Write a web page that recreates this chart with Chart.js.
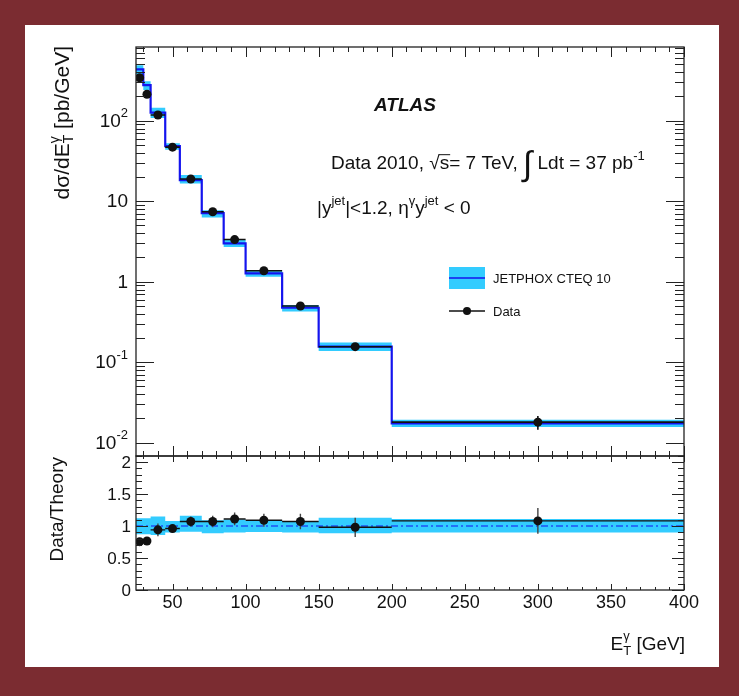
<!DOCTYPE html>
<html>
<head>
<meta charset="utf-8">
<script src="https://cdn.jsdelivr.net/npm/chart.js@4.4.1/dist/chart.umd.min.js"></script>
<style>
  html, body { margin: 0; padding: 0; background: #7b2c31; }
  #wrap { position: relative; width: 739px; height: 696px; overflow: hidden; }
  #paper { position: absolute; left: 25px; top: 25px; width: 694px; height: 642px; background: #fff; }
  canvas { position: absolute; left: 0; top: 0; }
</style>
</head>
<body>
<div id="wrap">
  <div id="paper"></div>
  <canvas id="xsChart" width="739" height="696"></canvas>
  <canvas id="ratioChart" width="739" height="696"></canvas>
</div>
<script>
(() => {
  'use strict'

  // Bins in photon E_T [GeV]
  const binEdges = [25, 30, 35, 45, 55, 70, 85, 100, 125, 150, 200, 400];
  const binCentres = [27.5, 32.5, 40, 50, 62.5, 77.5, 92.5, 112.5, 137.5, 175, 300];

  // JETPHOX prediction [pb/GeV] and its relative band
  const theoryXs = [435, 277, 126, 48.5, 18.3, 7.1, 3.0, 1.27, 0.475, 0.156, 0.0174];
  const theoryHi = [1.12, 1.12, 1.15, 1.08, 1.16, 1.09, 1.10, 1.08, 1.08, 1.13, 1.11];
  const theoryLo = [0.87, 0.87, 0.86, 0.90, 0.91, 0.885, 0.90, 0.905, 0.90, 0.885, 0.90];

  // Measured cross section [pb/GeV]
  const dataXs = [342, 213, 118, 47, 18.9, 7.4, 3.34, 1.37, 0.50, 0.156, 0.018];
  const dataXsErr = [8, 5, 4, 1.2, 0.6, 0.3, 0.17, 0.08, 0.035, 0.016, 0.0035];

  // Data / Theory
  const dataRatio = [0.755, 0.766, 0.94, 0.96, 1.07, 1.07, 1.11, 1.09, 1.07, 0.98, 1.08];
  const ratioErr = [0.05, 0.05, 0.1, 0.05, 0.08, 0.09, 0.1, 0.1, 0.12, 0.15, 0.2];

  // Axis ticks
  const xMajorTicks = [50, 100, 150, 200, 250, 300, 350, 400];
  const xMinorTicks = [30, 40, 60, 70, 80, 90, 110, 120, 130, 140, 160, 170, 180, 190, 210, 220, 230, 240,
    260, 270, 280, 290, 310, 320, 330, 340, 360, 370, 380, 390];
  const xsTicks = [0.01, 0.1, 1, 10, 100];
  const xsTickLabels = [['10', '-2'], ['10', '-1'], ['1', ''], ['10', ''], ['10', '2']];
  const ratioTicks = [0, 0.5, 1, 1.5, 2];
  const ratioTickLabels = ['0', '0.5', '1', '1.5', '2'];

  const CYAN = '#33ccff';
  const BLUE = '#1414ee';
  const INK = '#111';
  const FAMILY = '"Liberation Sans", Arial, sans-serif';

  // helpers building the point lists
  const steps = (vals) => binEdges.map((x, i) => ({ x, y: vals[Math.min(i, vals.length - 1)] }));
  const hSegs = (vals) => vals.flatMap((y, i) => [
    { x: binEdges[i], y }, { x: binEdges[i + 1], y }, { x: binEdges[i + 1], y: null }]);
  const vSegs = (vals, errs) => vals.flatMap((y, i) => [
    { x: binCentres[i], y: y - errs[i] }, { x: binCentres[i], y: y + errs[i] }, { x: binCentres[i], y: null }]);
  const points = (vals) => vals.map((y, i) => ({ x: binCentres[i], y }));

  const fontOf = (p) => `${p.italic ? 'italic ' : ''}${p.bold ? 'bold ' : ''}${p.size || 19}px ${p.family || FAMILY}`;

  // draws a row of text pieces (for super/subscripts)
  function drawRich(ctx, parts, x, y, align) {
    const widths = parts.map(p => { ctx.font = fontOf(p); return p.skip ? 0 : ctx.measureText(p.t).width; });
    const total = widths.reduce((a, b) => a + b, 0);
    let cx = align === 'right' ? x - total : align === 'center' ? x - total / 2 : x;
    parts.forEach((p, i) => {
      ctx.font = fontOf(p);
      ctx.fillText(p.t, cx, y + (p.dy || 0));
      if (p.over) {
        const w = ctx.measureText(p.t).width;
        ctx.fillRect(cx - 1, y - (p.size || 19) * 0.78, w + 2, 1);
      }
      cx += widths[i];
    });
  }

  function drawTicks(ctx, chart, t) {
    const a = chart.chartArea;
    const xs = chart.scales.x, ys = chart.scales.y;
    ctx.save();
    ctx.strokeStyle = '#222';
    ctx.lineWidth = 1;
    ctx.beginPath();
    t.xTicks.forEach(([v, len]) => {
      const px = Math.round(xs.getPixelForValue(v)) + 0.5;
      ctx.moveTo(px, a.top); ctx.lineTo(px, a.top + len);
      ctx.moveTo(px, a.bottom); ctx.lineTo(px, a.bottom - len);
    });
    t.yTicks.forEach(([v, len]) => {
      const py = Math.round(ys.getPixelForValue(v)) + 0.5;
      ctx.moveTo(a.left, py); ctx.lineTo(a.left + len, py);
      ctx.moveTo(a.right, py); ctx.lineTo(a.right - len, py);
    });
    ctx.stroke();
    ctx.lineWidth = 1.3;
    ctx.strokeRect(a.left, a.top, a.right - a.left, a.bottom - a.top);
    ctx.restore();
  }

  const baseOptions = (pad, yScale) => ({
    responsive: false,
    animation: false,
    events: [],
    layout: { padding: pad },
    plugins: { legend: { display: false }, tooltip: { enabled: false } },
    scales: {
      x: { type: 'linear', min: 25, max: 400, display: false },
      y: yScale
    }
  });

  const lineSet = (data, extra) => Object.assign({
    data, pointRadius: 0, borderWidth: 0, spanGaps: false, fill: false
  }, extra);

  // ---------- upper panel: cross section ----------
  const logMinor = [];
  [0.01, 0.1, 1, 10, 100].forEach(d => { for (let k = 2; k <= 9; k++) logMinor.push(d * k); });

  new Chart(document.getElementById('xsChart'), {
    type: 'line',
    data: {
      datasets: [
        lineSet(steps(theoryXs.map((v, i) => v * theoryHi[i])), { stepped: 'before', fill: '+1', backgroundColor: CYAN, order: 6 }),
        lineSet(steps(theoryXs.map((v, i) => v * theoryLo[i])), { stepped: 'before', order: 7 }),
        lineSet(steps(theoryXs), { stepped: 'before', borderColor: BLUE, borderWidth: 2.2, order: 5 }),
        lineSet(hSegs(dataXs), { borderColor: INK, borderWidth: 1.6, order: 4 }),
        lineSet(vSegs(dataXs, dataXsErr), { borderColor: INK, borderWidth: 1.6, order: 3 }),
        lineSet(points(dataXs), { showLine: false, pointRadius: 4.5, pointBackgroundColor: INK, pointBorderColor: INK, order: 2 })
      ]
    },
    options: baseOptions({ left: 136, right: 55, top: 47, bottom: 240 },
      { type: 'logarithmic', min: 0.00684, max: 824, display: false }),
    plugins: [{
      id: 'rootXsFrame',
      afterDatasetsDraw(chart) {
        const ctx = chart.ctx;
        const ys = chart.scales.y;
        drawTicks(ctx, chart, {
          xTicks: xMajorTicks.map(v => [v, 10]).concat(xMinorTicks.map(v => [v, 5])),
          yTicks: xsTicks.map(v => [v, 18]).concat(logMinor.filter(v => v < 824).map(v => [v, 9]))
        });
        ctx.save();
        ctx.fillStyle = INK;
        ctx.textBaseline = 'middle';
        xsTicks.forEach((v, i) => {
          const [m, e] = xsTickLabels[i];
          const py = ys.getPixelForValue(v) + 1;
          const parts = [{ t: m, size: 19 }];
          if (e) parts.push({ t: e, size: 13, dy: -8 });
          drawRich(ctx, parts, 128, py, 'right');
        });

        // y title, rotated
        ctx.textBaseline = 'alphabetic';
        ctx.save();
        ctx.translate(69, 46);
        ctx.rotate(-Math.PI / 2);
        drawRich(ctx, [
          { t: 'dσ/dE', size: 21 }, { t: 'γ', size: 14, dy: -10, skip: true }, { t: 'T', size: 14, dy: 4 },
          { t: ' [pb/GeV]', size: 21 }
        ], 0, 0, 'right');
        ctx.restore();

        // labels
        drawRich(ctx, [{ t: 'ATLAS', bold: true, italic: true, size: 19 }], 405, 111, 'center');
        drawRich(ctx, [
          { t: 'Data 2010, ' }, { t: '√' }, { t: 's', over: true }, { t: '= 7 TeV, ' },
          { t: '∫', size: 34, dy: 6 }, { t: ' Ldt = 37 pb' }, { t: '-1', size: 13, dy: -9 }
        ], 331, 169, 'left');
        drawRich(ctx, [
          { t: '|y' }, { t: 'jet', size: 13, dy: -9 }, { t: '|<1.2, η' }, { t: 'γ', size: 13, dy: -9 },
          { t: 'y' }, { t: 'jet', size: 13, dy: -9 }, { t: ' < 0' }
        ], 317, 214, 'left');

        // legend
        ctx.fillStyle = CYAN;
        ctx.fillRect(449, 267, 36, 22);
        ctx.strokeStyle = BLUE;
        ctx.lineWidth = 1.5;
        ctx.beginPath(); ctx.moveTo(449, 278); ctx.lineTo(485, 278); ctx.stroke();
        ctx.strokeStyle = INK;
        ctx.beginPath(); ctx.moveTo(449, 311); ctx.lineTo(485, 311); ctx.stroke();
        ctx.fillStyle = INK;
        ctx.beginPath(); ctx.arc(467, 311, 4, 0, Math.PI * 2); ctx.fill();
        ctx.textBaseline = 'middle';
        ctx.font = `13px ${FAMILY}`;
        ctx.fillText('JETPHOX CTEQ 10', 493, 279);
        ctx.fillText('Data', 493, 312);
        ctx.restore();
      }
    }]
  });

  // ---------- lower panel: ratio ----------
  const ratioMinor = [];
  for (let k = 1; k <= 21; k++) if (k % 5 !== 0) ratioMinor.push(k / 10);

  new Chart(document.getElementById('ratioChart'), {
    type: 'line',
    data: {
      datasets: [
        lineSet(steps(theoryHi), { stepped: 'before', fill: '+1', backgroundColor: CYAN, order: 6 }),
        lineSet(steps(theoryLo), { stepped: 'before', order: 7 }),
        lineSet([{ x: 25, y: 1 }, { x: 400, y: 1 }], { borderColor: BLUE, borderWidth: 1, borderDash: [7, 3, 2, 3], order: 5 }),
        lineSet(hSegs(dataRatio), { borderColor: INK, borderWidth: 1.4, order: 4 }),
        lineSet(vSegs(dataRatio, ratioErr), { borderColor: '#444', borderWidth: 1.4, order: 3 }),
        lineSet(points(dataRatio), { showLine: false, pointRadius: 4.5, pointBackgroundColor: INK, pointBorderColor: INK, order: 2 })
      ]
    },
    options: baseOptions({ left: 136, right: 55, top: 456, bottom: 106 },
      { type: 'linear', min: 0, max: 2.094, display: false }),
    plugins: [{
      id: 'rootRatioFrame',
      afterDatasetsDraw(chart) {
        const ctx = chart.ctx;
        const xs = chart.scales.x, ys = chart.scales.y;
        drawTicks(ctx, chart, {
          xTicks: xMajorTicks.map(v => [v, 6]).concat(xMinorTicks.map(v => [v, 3])),
          yTicks: ratioTicks.map(v => [v, 12]).concat(ratioMinor.map(v => [v, 6]))
        });
        ctx.save();
        ctx.fillStyle = INK;
        ctx.textBaseline = 'middle';
        ctx.font = `18px ${FAMILY}`;
        ctx.textAlign = 'center';
        xMajorTicks.forEach(v => ctx.fillText(String(v), xs.getPixelForValue(v), 603));
        ctx.font = `17px ${FAMILY}`;
        ctx.textAlign = 'right';
        ratioTicks.forEach((v, i) => ctx.fillText(ratioTickLabels[i], 131, ys.getPixelForValue(v) + 1));
        ctx.textAlign = 'left';
        ctx.textBaseline = 'alphabetic';

        ctx.save();
        ctx.translate(63, 457);
        ctx.rotate(-Math.PI / 2);
        drawRich(ctx, [{ t: 'Data/Theory' }], 0, 0, 'right');
        ctx.restore();

        drawRich(ctx, [
          { t: 'E' }, { t: 'γ', size: 13, dy: -10, skip: true }, { t: 'T', size: 13, dy: 5 }, { t: ' [GeV]' }
        ], 685, 650, 'right');
        ctx.restore();
      }
    }]
  });
})()
</script>
</body>
</html>
